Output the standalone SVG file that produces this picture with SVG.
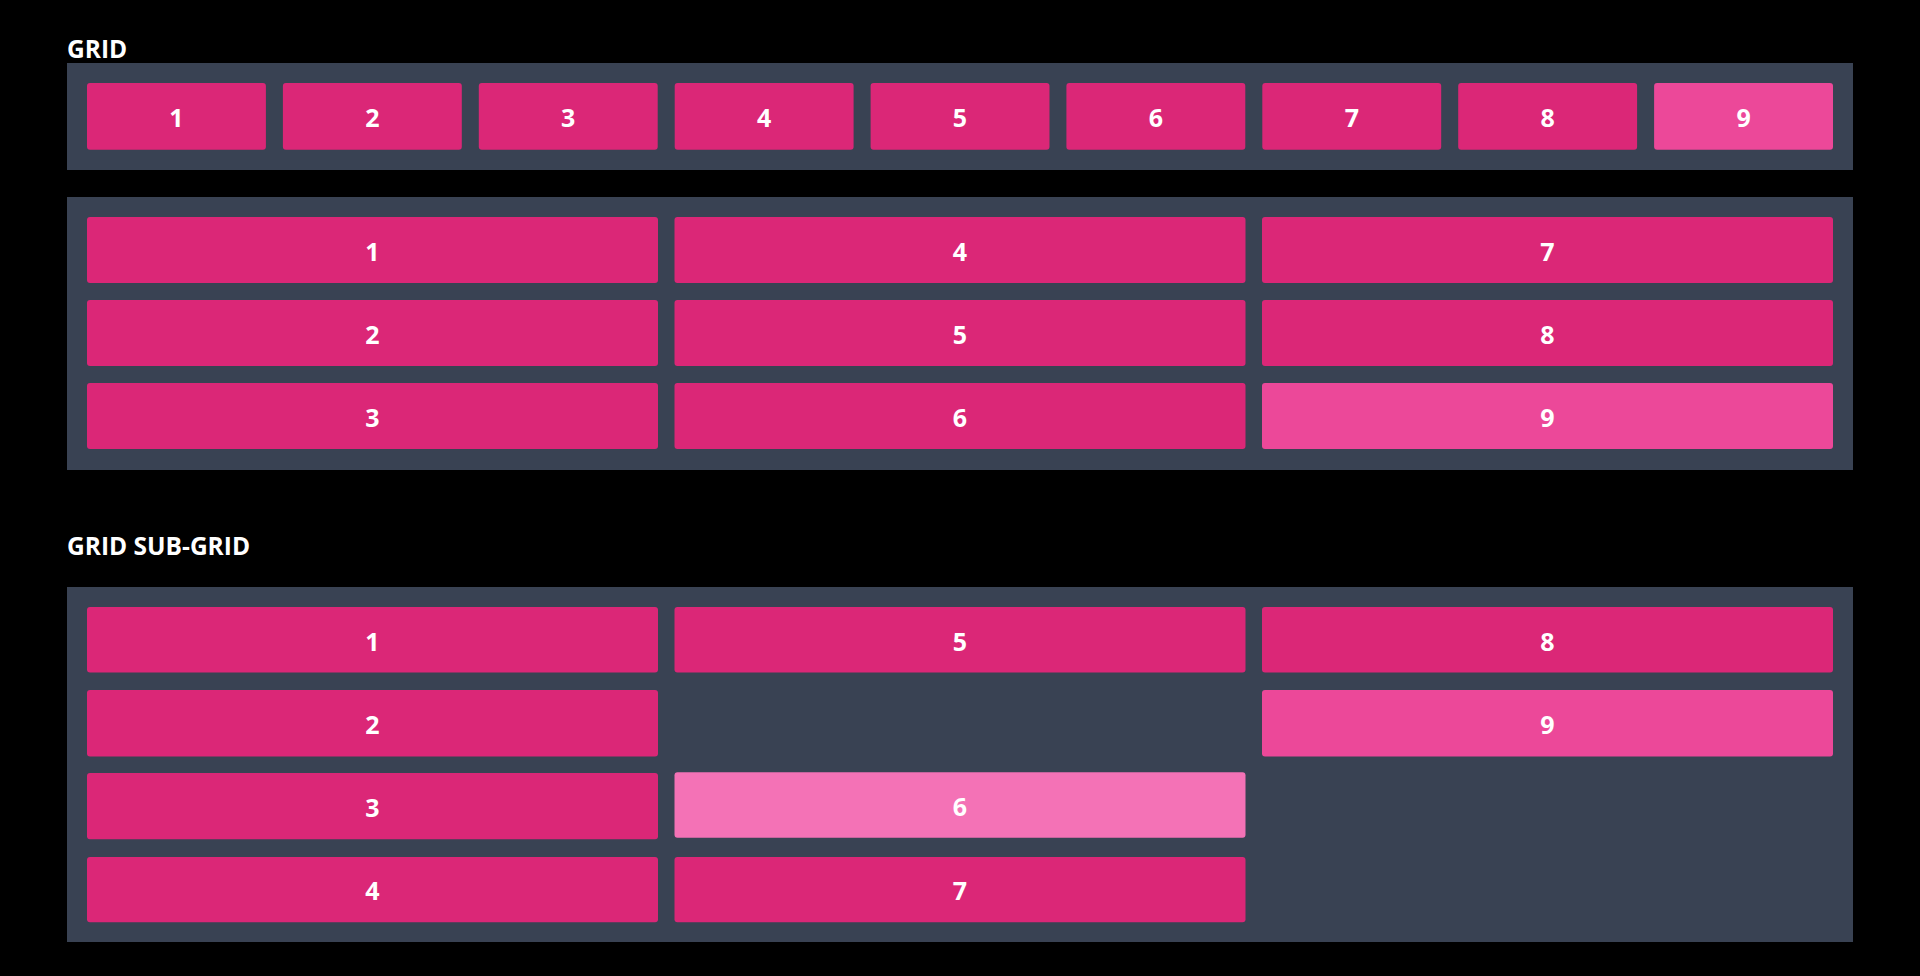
<svg xmlns="http://www.w3.org/2000/svg" width="1920" height="976" viewBox="0 0 1920 976">
<style>
.bg{fill:#000}
.box{fill:#394253}
.it{fill:#db2777}
.it9{fill:#ec4899}
.it6{fill:#f472b6}
.n{font-family:"Open Sans","Noto Sans","Liberation Sans",sans-serif;font-weight:700;font-size:25px;fill:#fff;text-anchor:middle}
.t{font-family:"Open Sans","Noto Sans","Liberation Sans",sans-serif;font-weight:700;font-size:24.5px;fill:#fff}
</style>
<rect class="bg" x="0" y="0" width="1920" height="976"/>
<text class="t" x="67" y="58">GRID</text>
<g id="grid1">
<rect class="box" x="67" y="63" width="1786" height="107"/>
<g id="g1-1"><rect class="it" x="87" y="83" width="178.9" height="66.7" rx="3"/><text class="n" x="176.4" y="126.5">1</text></g>
<g id="g1-2"><rect class="it" x="282.9" y="83" width="178.9" height="66.7" rx="3"/><text class="n" x="372.3" y="126.5">2</text></g>
<g id="g1-3"><rect class="it" x="478.8" y="83" width="178.9" height="66.7" rx="3"/><text class="n" x="568.2" y="126.5">3</text></g>
<g id="g1-4"><rect class="it" x="674.7" y="83" width="178.9" height="66.7" rx="3"/><text class="n" x="764.1" y="126.5">4</text></g>
<g id="g1-5"><rect class="it" x="870.6" y="83" width="178.9" height="66.7" rx="3"/><text class="n" x="960" y="126.5">5</text></g>
<g id="g1-6"><rect class="it" x="1066.4" y="83" width="178.9" height="66.7" rx="3"/><text class="n" x="1155.9" y="126.5">6</text></g>
<g id="g1-7"><rect class="it" x="1262.3" y="83" width="178.9" height="66.7" rx="3"/><text class="n" x="1351.8" y="126.5">7</text></g>
<g id="g1-8"><rect class="it" x="1458.2" y="83" width="178.9" height="66.7" rx="3"/><text class="n" x="1547.7" y="126.5">8</text></g>
<g id="g1-9"><rect class="it9" x="1654.1" y="83" width="178.9" height="66.7" rx="3"/><text class="n" x="1743.6" y="126.5">9</text></g>
</g>
<g id="grid2">
<rect class="box" x="67" y="197" width="1786" height="273"/>
<g id="g2-1"><rect class="it" x="87" y="217" width="571" height="66" rx="3"/><text class="n" x="372.5" y="260.5">1</text></g>
<g id="g2-2"><rect class="it" x="87" y="300" width="571" height="66" rx="3"/><text class="n" x="372.5" y="343.5">2</text></g>
<g id="g2-3"><rect class="it" x="87" y="383" width="571" height="66" rx="3"/><text class="n" x="372.5" y="426.5">3</text></g>
<g id="g2-4"><rect class="it" x="674.5" y="217" width="571" height="66" rx="3"/><text class="n" x="960" y="260.5">4</text></g>
<g id="g2-5"><rect class="it" x="674.5" y="300" width="571" height="66" rx="3"/><text class="n" x="960" y="343.5">5</text></g>
<g id="g2-6"><rect class="it" x="674.5" y="383" width="571" height="66" rx="3"/><text class="n" x="960" y="426.5">6</text></g>
<g id="g2-7"><rect class="it" x="1262" y="217" width="571" height="66" rx="3"/><text class="n" x="1547.5" y="260.5">7</text></g>
<g id="g2-8"><rect class="it" x="1262" y="300" width="571" height="66" rx="3"/><text class="n" x="1547.5" y="343.5">8</text></g>
<g id="g2-9"><rect class="it9" x="1262" y="383" width="571" height="66" rx="3"/><text class="n" x="1547.5" y="426.5">9</text></g>
</g>
<text class="t" x="67" y="555">GRID SUB-GRID</text>
<g id="grid3">
<rect class="box" x="67" y="587" width="1786" height="355"/>
<g id="g3-1"><rect class="it" x="87" y="607" width="571" height="65.5" rx="3"/><text class="n" x="372.5" y="650.5">1</text></g>
<g id="g3-2"><rect class="it" x="87" y="690" width="571" height="66.5" rx="3"/><text class="n" x="372.5" y="733.5">2</text></g>
<g id="g3-3"><rect class="it" x="87" y="773" width="571" height="66.3" rx="3"/><text class="n" x="372.5" y="816.5">3</text></g>
<g id="g3-4"><rect class="it" x="87" y="857" width="571" height="65.3" rx="3"/><text class="n" x="372.5" y="900">4</text></g>
<g id="g3-5"><rect class="it" x="674.5" y="607" width="571" height="65.5" rx="3"/><text class="n" x="960" y="650.5">5</text></g>
<g id="g3-6"><rect class="it6" x="674.5" y="772.3" width="571" height="65.4" rx="3"/><text class="n" x="960" y="815.5">6</text></g>
<g id="g3-7"><rect class="it" x="674.5" y="857" width="571" height="65.3" rx="3"/><text class="n" x="960" y="900">7</text></g>
<g id="g3-8"><rect class="it" x="1262" y="607" width="571" height="65.5" rx="3"/><text class="n" x="1547.5" y="650.5">8</text></g>
<g id="g3-9"><rect class="it9" x="1262" y="690" width="571" height="66.5" rx="3"/><text class="n" x="1547.5" y="733.5">9</text></g>
</g>
<g id="connectors"/>
</svg>
